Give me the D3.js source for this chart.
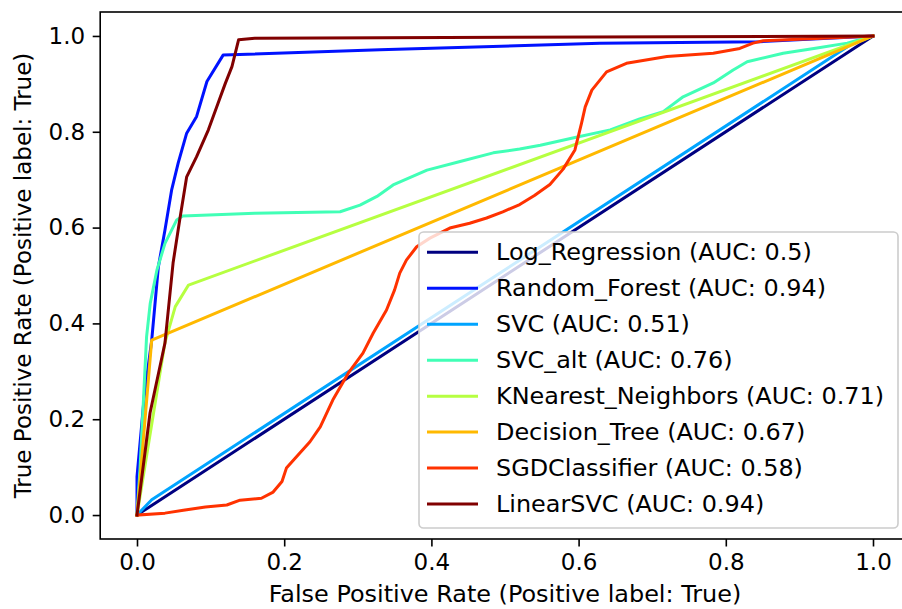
<!DOCTYPE html>
<html>
<head>
    <meta charset="utf-8">
    <title>ROC curves</title>
    <script src="https://cdn.jsdelivr.net/npm/d3@7"></script>
    <style>
        body { margin: 0; background: #fff; }
        text { font-family: "DejaVu Sans", sans-serif; fill: #000; }
    </style>
</head>

<body>
    <svg width="902" height="609" id="mainsvg"></svg>
    <script>
        // model names and AUC values (legend order)
        const models = ['Log_Regression', 'Random_Forest', 'SVC', 'SVC_alt',
            'KNearest_Neighbors', 'Decision_Tree', 'SGDClassifier', 'LinearSVC'];
        const aucs = [0.5, 0.94, 0.51, 0.76, 0.71, 0.67, 0.58, 0.94];

        // ROC points [fpr, tpr]
        const logRegression = [[0, 0], [1, 1]];
        const randomForest = [[0, 0], [0, 0.08], [0.01, 0.25], [0.02, 0.365], [0.029, 0.518],
            [0.038, 0.595], [0.047, 0.678], [0.056, 0.735], [0.0675, 0.797], [0.081, 0.832],
            [0.095, 0.905], [0.117, 0.96], [0.33, 0.971], [0.629, 0.985], [0.846, 0.988], [1, 1]];
        const svc = [[0, 0], [0.02, 0.032], [0.97, 0.982], [1, 1]];
        const svcAlt = [[0, 0], [0.004, 0.094], [0.0086, 0.234], [0.013, 0.372], [0.018, 0.442],
            [0.027, 0.511], [0.038, 0.567], [0.054, 0.616], [0.062, 0.624], [0.16, 0.63],
            [0.276, 0.633], [0.303, 0.647], [0.326, 0.665], [0.348, 0.689], [0.394, 0.72],
            [0.439, 0.738], [0.484, 0.756], [0.52, 0.764], [0.548, 0.772], [0.592, 0.787],
            [0.643, 0.804], [0.683, 0.827], [0.715, 0.842], [0.742, 0.873], [0.783, 0.902],
            [0.81, 0.929], [0.829, 0.946], [0.878, 0.964], [0.924, 0.975], [0.965, 0.985], [1, 1]];
        const knn = [[0, 0], [0.038, 0.36], [0.052, 0.435], [0.07, 0.48], [1, 1]];
        const decisionTree = [[0, 0], [0.02, 0.365], [1, 1]];
        const sgd = [[0, 0], [0.038, 0.004], [0.063, 0.01], [0.093, 0.017], [0.122, 0.021],
            [0.14, 0.031], [0.169, 0.035], [0.185, 0.048], [0.197, 0.07], [0.203, 0.098],
            [0.217, 0.122], [0.235, 0.153], [0.249, 0.184], [0.266, 0.24], [0.287, 0.296],
            [0.307, 0.338], [0.321, 0.38], [0.339, 0.428], [0.35, 0.47], [0.357, 0.505],
            [0.366, 0.532], [0.38, 0.56], [0.398, 0.578], [0.425, 0.599], [0.452, 0.609],
            [0.475, 0.62], [0.497, 0.633], [0.52, 0.648], [0.54, 0.667], [0.561, 0.69],
            [0.579, 0.722], [0.595, 0.762], [0.604, 0.818], [0.609, 0.852], [0.618, 0.887],
            [0.638, 0.925], [0.665, 0.943], [0.72, 0.957], [0.783, 0.964], [0.819, 0.974],
            [0.837, 0.985], [0.851, 0.99], [1, 1]];
        const linearSvc = [[0, 0], [0.0177, 0.213], [0.038, 0.359], [0.049, 0.526], [0.058, 0.616],
            [0.0675, 0.706], [0.081, 0.748], [0.097, 0.804], [0.11, 0.859], [0.12, 0.901],
            [0.129, 0.936], [0.138, 0.992], [0.16, 0.995], [1, 1]];

        const curves = [logRegression, randomForest, svc, svcAlt, knn, decisionTree, sgd, linearSvc];
        const xTicks = [0, 0.2, 0.4, 0.6, 0.8, 1.0];
        const yTicks = [0, 0.2, 0.4, 0.6, 0.8, 1.0];

        const svg = d3.select('svg');
        const fontSize = 23;
        const stretch = 1.04;

        const x = d3.scaleLinear().domain([-0.05, 1.05]).range([100.2, 909.8]);
        const y = d3.scaleLinear().domain([-0.05, 1.05]).range([539, 12]);
        // jet colormap sampled at 8 points
        const jet = ['#000080', '#0012ff', '#00a4ff', '#41ffb6', '#b6ff41', '#ffb900', '#ff3200', '#800000'];

        const line = d3.line().x(d => x(d[0])).y(d => y(d[1]));

        svg.append('g').selectAll('path').data(curves).join('path')
            .attr('d', line)
            .attr('fill', 'none')
            .attr('stroke', (d, i) => jet[i])
            .attr('stroke-width', 3)
            .attr('stroke-linejoin', 'round')
            .attr('stroke-linecap', 'square');

        // axes
        const xAxis = svg.append('g').attr('transform', 'translate(0,539)')
            .call(d3.axisBottom(x).tickValues(xTicks).tickFormat(d3.format('.1f'))
                .tickSize(7.5).tickPadding(7).tickSizeOuter(0));
        const yAxis = svg.append('g').attr('transform', 'translate(100.2,0)')
            .call(d3.axisLeft(y).tickValues(yTicks).tickFormat(d3.format('.1f'))
                .tickSize(7.5).tickPadding(7.5).tickSizeOuter(0));
        [xAxis, yAxis].forEach(g => {
            g.select('.domain').remove();
            g.selectAll('line').attr('stroke', '#000').attr('stroke-width', 1.6);
            g.selectAll('text').attr('font-size', fontSize)
                .attr('font-family', '"DejaVu Sans", sans-serif').attr('fill', '#000');
        });

        // spines
        svg.append('rect')
            .attr('x', 100.2).attr('y', 12)
            .attr('width', 909.8 - 100.2).attr('height', 539 - 12)
            .attr('fill', 'none').attr('stroke', '#000').attr('stroke-width', 1.6);

        // axis labels
        svg.append('text')
            .attr('transform', `translate(${x(0.5)},602) scale(${stretch},1)`)
            .attr('text-anchor', 'middle').attr('font-size', fontSize)
            .text('False Positive Rate (Positive label: True)');
        svg.append('text')
            .attr('transform', `translate(31,${y(0.5)}) rotate(-90)`)
            .attr('text-anchor', 'middle').attr('font-size', fontSize)
            .text('True Positive Rate (Positive label: True)');

        // legend
        const legend = svg.append('g');
        legend.append('rect')
            .attr('x', 419).attr('y', 232)
            .attr('width', 898 - 419).attr('height', 528 - 232)
            .attr('rx', 4.5)
            .attr('fill', '#fff').attr('fill-opacity', 0.8)
            .attr('stroke', '#ccc').attr('stroke-width', 1.6);
        const rowY = d3.scalePoint().domain(models).range([252.3, 504]);
        const rows = legend.selectAll('g.row').data(models).join('g')
            .attr('class', 'row')
            .attr('transform', d => `translate(0,${rowY(d)})`);
        rows.append('line')
            .attr('x1', 427).attr('x2', 478)
            .attr('stroke', (d, i) => jet[i]).attr('stroke-width', 3);
        rows.append('text')
            .attr('transform', `translate(496,0) scale(${stretch},1)`)
            .attr('dy', '0.35em')
            .attr('font-size', fontSize)
            .text((d, i) => `${d} (AUC: ${aucs[i]})`);
    </script>
</body>
</html>
